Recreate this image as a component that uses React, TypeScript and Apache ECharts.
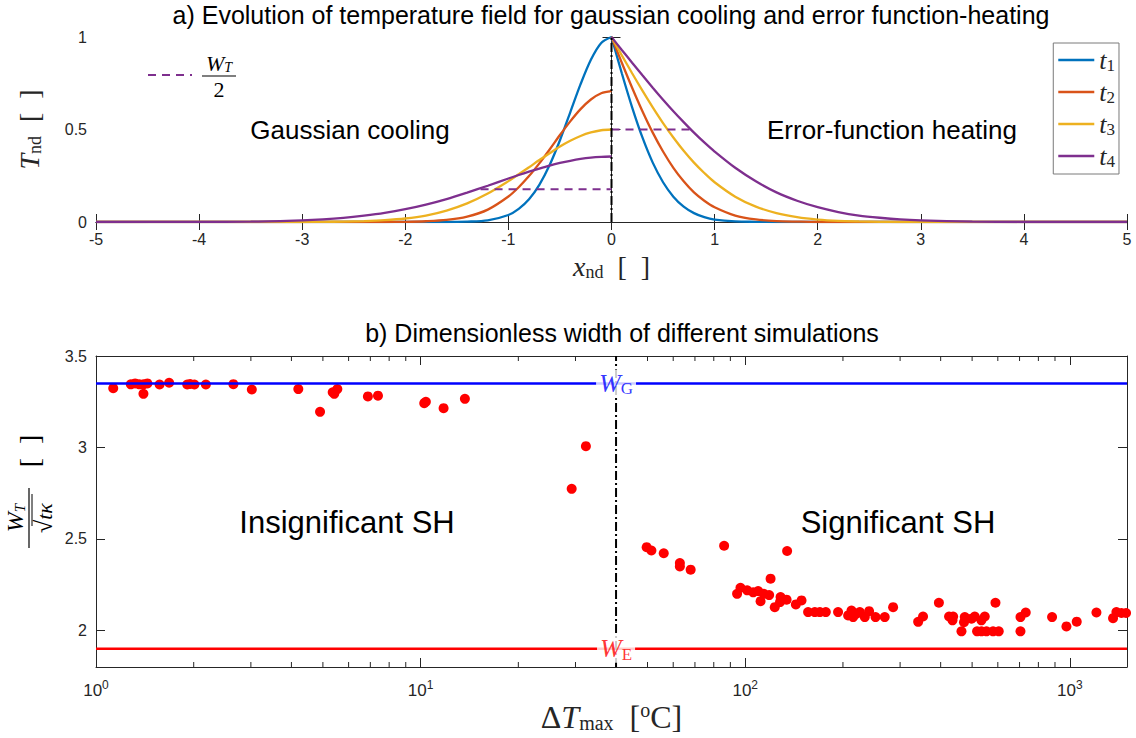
import React, { useEffect, useRef } from 'react';
import * as echarts from 'echarts';

const SANS = '"Liberation Sans", Arial, Helvetica, sans-serif';
const NARROW = '"Liberation Sans Narrow", "Liberation Sans", Arial, sans-serif';
const SERIF = '"Liberation Serif", "Times New Roman", "DejaVu Serif", serif';
const INK = '#262626';
const COLORS = ['#0072BD', '#D95319', '#EDB120', '#7E2F8E'];

// ---------- panel a) ----------
const timeNames = ['t1', 't2', 't3', 't4'];
const xSamples = [0, 0.1, 0.2, 0.3, 0.4, 0.5, 0.6, 0.7, 0.8, 0.9, 1.0, 1.2, 1.4, 1.6, 1.8, 2.0, 2.2, 2.4, 2.6, 2.8, 3.0, 3.5, 4.0, 5.0];
// Gaussian cooling side (x <= 0), values at -xSamples
const coolT1 = [1, 0.968, 0.877, 0.745, 0.593, 0.442, 0.308, 0.201, 0.123, 0.071, 0.038, 0.009, 0.002, 0, 0, 0, 0, 0, 0, 0, 0, 0, 0, 0];
const coolT2 = [0.707, 0.696, 0.662, 0.61, 0.544, 0.47, 0.392, 0.317, 0.248, 0.188, 0.138, 0.067, 0.029, 0.011, 0.004, 0.001, 0, 0, 0, 0, 0, 0, 0, 0];
const coolT3 = [0.5, 0.496, 0.484, 0.465, 0.439, 0.408, 0.372, 0.335, 0.296, 0.258, 0.221, 0.154, 0.101, 0.062, 0.035, 0.019, 0.01, 0.005, 0.002, 0.001, 0, 0, 0, 0];
const coolT4 = [0.354, 0.352, 0.348, 0.341, 0.331, 0.319, 0.305, 0.289, 0.272, 0.254, 0.235, 0.196, 0.159, 0.124, 0.094, 0.069, 0.049, 0.034, 0.022, 0.014, 0.009, 0.002, 0.001, 0];
// Error-function heating side (x >= 0), values at +xSamples
const heatT1 = [1, 0.804, 0.62, 0.457, 0.321, 0.215, 0.137, 0.083, 0.048, 0.026, 0.013, 0.003, 0.001, 0, 0, 0, 0, 0, 0, 0, 0, 0, 0, 0];
const heatT2 = [1, 0.861, 0.726, 0.599, 0.483, 0.381, 0.293, 0.22, 0.16, 0.115, 0.08, 0.035, 0.014, 0.005, 0.002, 0, 0, 0, 0, 0, 0, 0, 0, 0];
const heatT3 = [1, 0.901, 0.804, 0.71, 0.62, 0.535, 0.457, 0.385, 0.321, 0.265, 0.215, 0.137, 0.083, 0.048, 0.026, 0.013, 0.006, 0.003, 0.001, 0, 0, 0, 0, 0];
const heatT4 = [1, 0.93, 0.861, 0.793, 0.726, 0.661, 0.599, 0.54, 0.483, 0.43, 0.381, 0.293, 0.22, 0.16, 0.115, 0.08, 0.054, 0.035, 0.023, 0.014, 0.009, 0.002, 0, 0];
const coolCurves = [coolT1, coolT2, coolT3, coolT4];
const heatCurves = [heatT1, heatT2, heatT3, heatT4];
const halfWidthCool = [[-1.27, 0.177], [0, 0.177]];
const halfWidthHeat = [[0, 0.5], [0.77, 0.5]];
const centreLine = [[0, 0], [0, 1]];

// ---------- panel b) ----------
const insignificant = [
  [1.13, 3.324], [1.28, 3.345], [1.32, 3.35], [1.36, 3.345], [1.4, 3.345], [1.44, 3.35], [1.4, 3.293],
  [1.57, 3.344], [1.68, 3.354], [1.91, 3.344], [1.95, 3.347], [2.01, 3.344], [2.18, 3.344], [2.65, 3.346],
  [3.02, 3.317], [4.2, 3.319], [4.9, 3.195], [5.36, 3.302], [5.42, 3.293], [5.54, 3.319], [6.88, 3.279],
  [7.39, 3.283], [10.26, 3.242], [10.38, 3.25], [11.77, 3.215], [13.69, 3.266], [29.2, 2.774], [32.3, 3.007],
];
const significant = [
  [49.7, 2.455], [51.4, 2.437], [56.1, 2.422], [62.9, 2.368], [62.9, 2.35], [67.9, 2.332], [86.1, 2.463],
  [94.4, 2.2], [96.7, 2.233], [101.4, 2.219], [105.8, 2.208], [109.6, 2.215], [111.5, 2.16], [114.1, 2.2],
  [118.5, 2.193], [119.7, 2.283], [123.3, 2.127], [128.5, 2.182], [128, 2.155], [134.1, 2.168], [134.6, 2.434],
  [143.2, 2.142], [149.1, 2.164], [156.2, 2.1], [163.8, 2.1], [169.8, 2.1], [177.1, 2.1], [193.2, 2.1],
  [207.5, 2.082], [212.5, 2.109], [215, 2.073], [220.2, 2.091], [225.4, 2.1], [233.5, 2.073], [240.8, 2.105],
  [252, 2.073], [269, 2.073], [285.5, 2.127], [341, 2.047], [353, 2.076], [395, 2.151], [424.6, 2.076],
  [435, 2.055], [437, 2.076], [463.6, 1.995], [472, 2.045], [474.6, 2.073], [497.7, 2.064], [509.4, 2.076],
  [517.9, 1.995], [534.2, 1.995], [553.6, 1.995], [580, 1.995], [604, 1.995], [534, 2.055], [546.9, 2.076],
  [590, 2.151], [704.6, 2.073], [731.4, 2.098], [704.6, 1.995], [881.6, 2.073], [976.1, 2.022], [1050, 2.048],
  [1207.6, 2.098], [1358.6, 2.067], [1391.5, 2.1], [1442, 2.095], [1490, 2.095],
];
const wG = 3.35;
const wE = 1.9;
const dTSplit = 40;
const dTRange = [1, 1500];
const widthRange = [1.8, 3.5];
const widthTicks = [2, 2.5, 3, 3.5];
const minorTicks = [2, 3, 4, 5, 6, 7, 8, 9, 20, 30, 40, 50, 60, 70, 80, 90, 200, 300, 400, 500, 600, 700, 800, 900];

const makeRich = (size: number, sub: number, subPad: number) => ({
  i: { fontFamily: SERIF, fontStyle: 'italic', fontSize: size, color: INK },
  s: { fontFamily: SERIF, fontSize: sub, color: INK, padding: [subPad, 0, 0, 0] },
  n: { fontFamily: SERIF, fontSize: size, color: INK },
  p: { fontFamily: SERIF, fontSize: sub, color: INK, padding: [0, 0, subPad + 2, 0] },
});

export default function App() {
  const ref = useRef<HTMLDivElement>(null);
  useEffect(() => {
    const chart = echarts.init(ref.current as HTMLDivElement, null, { renderer: 'svg' });
    const axisLine = { show: true, lineStyle: { color: INK, width: 1 } };
    const tickLabel = { color: INK, fontFamily: SANS, fontSize: 16 };

    const curveSeries: any[] = [];
    timeNames.forEach((name, k) => {
      curveSeries.push({
        name, type: 'line', xAxisIndex: 0, yAxisIndex: 0, showSymbol: false, symbol: 'none',
        smooth: 0.3,
        lineStyle: { color: COLORS[k], width: 2.3 }, itemStyle: { color: COLORS[k] },
        data: xSamples.map((x, i) => [-x, coolCurves[k][i]]).reverse(),
      });
      curveSeries.push({
        name, type: 'line', xAxisIndex: 0, yAxisIndex: 0, showSymbol: false, symbol: 'none',
        smooth: 0.3,
        lineStyle: { color: COLORS[k], width: 2.3 }, itemStyle: { color: COLORS[k] },
        data: xSamples.map((x, i) => [x, heatCurves[k][i]]),
      });
    });

    const option: any = {
      animation: false,
      backgroundColor: '#ffffff',
      grid: [
        { left: 96, top: 37, width: 1031, height: 185 },
        { left: 96, top: 356, width: 1031, height: 311 },
      ],
      legend: {
        data: timeNames,
        orient: 'vertical', right: 17, top: 43,
        icon: 'rect',
        backgroundColor: '#fff', borderColor: '#7a7a7a', borderWidth: 1,
        padding: [4, 4, 4, 5], itemGap: 5, itemWidth: 36, itemHeight: 2.6,
        formatter: (n: string) => `{i|t}{s|${n.slice(1)}}`,
        textStyle: {
          rich: {
            i: { fontFamily: SERIF, fontStyle: 'italic', fontSize: 26, color: INK },
            s: { fontFamily: SERIF, fontSize: 17, color: INK, padding: [11, 0, 0, 0] },
          },
        },
      },
      xAxis: [
        {
          gridIndex: 0, type: 'value', min: -5, max: 5, interval: 1, position: 'bottom',
          axisLine, axisTick: { inside: true, length: 8, lineStyle: { color: INK } },
          axisLabel: { ...tickLabel, margin: 9 }, splitLine: { show: false },
          name: '{i|x}{s|nd}{n|  [  ]}', nameLocation: 'middle', nameGap: 29,
          nameTextStyle: { rich: makeRich(28, 18, 12) },
        },
        {
          gridIndex: 0, type: 'value', min: -5, max: 5, interval: 1, position: 'top',
          axisLine, axisTick: { inside: true, length: 8, lineStyle: { color: INK } },
          axisLabel: { show: false }, splitLine: { show: false },
        },
        {
          gridIndex: 1, type: 'log', logBase: 10, min: dTRange[0], max: dTRange[1], position: 'bottom',
          axisLine, axisTick: { inside: true, length: 9, lineStyle: { color: INK } },
          axisLabel: {
            margin: 12, showMaxLabel: false,
            formatter: (v: number) => {
              const e = Math.log10(v);
              return Math.abs(e - Math.round(e)) < 1e-6 ? `{b|10}{e|${Math.round(e)}}` : '';
            },
            rich: {
              b: { fontFamily: NARROW, fontSize: 17, color: INK },
              e: { fontFamily: NARROW, fontSize: 12, color: INK, padding: [0, 0, 11, 0] },
            },
          },
          splitLine: { show: false },
          name: '{n|Δ}{i|T}{s|max}{n|  [}{p|o}{n|C]}', nameLocation: 'middle', nameGap: 31,
          nameTextStyle: { rich: makeRich(32, 20, 12) },
        },
        {
          gridIndex: 1, type: 'log', logBase: 10, min: dTRange[0], max: dTRange[1], position: 'top',
          axisLine, axisTick: { inside: true, length: 9, lineStyle: { color: INK } },
          axisLabel: { show: false }, splitLine: { show: false },
        },
      ],
      yAxis: [
        {
          gridIndex: 0, type: 'value', min: 0, max: 1, interval: 0.5, position: 'left',
          axisLine, axisTick: { inside: true, length: 9, lineStyle: { color: INK } },
          axisLabel: { ...tickLabel, margin: 9 }, splitLine: { show: false },
          name: '{i|T}{s|nd}{n|  [  ]}', nameLocation: 'middle', nameRotate: 90, nameGap: 52,
          nameTextStyle: { rich: makeRich(28, 18, 12) },
        },
        {
          gridIndex: 0, type: 'value', min: 0, max: 1, interval: 0.5, position: 'right',
          axisLine, axisTick: { inside: true, length: 9, lineStyle: { color: INK } },
          axisLabel: { show: false }, splitLine: { show: false },
        },
        {
          gridIndex: 1, type: 'value', min: widthRange[0], max: widthRange[1], position: 'left',
          axisLine,
          axisTick: { inside: true, length: 9, lineStyle: { color: INK }, customValues: widthTicks },
          axisLabel: { ...tickLabel, margin: 9, customValues: widthTicks }, splitLine: { show: false },
        },
        {
          gridIndex: 1, type: 'value', min: widthRange[0], max: widthRange[1], position: 'right',
          axisLine,
          axisTick: { inside: true, length: 9, lineStyle: { color: INK }, customValues: widthTicks },
          axisLabel: { show: false, customValues: widthTicks }, splitLine: { show: false },
        },
      ],
      series: [
        ...curveSeries,
        {
          name: 'halfCool', type: 'line', xAxisIndex: 0, yAxisIndex: 0, showSymbol: false, symbol: 'none',
          lineStyle: { color: COLORS[3], width: 2, type: [8, 6] }, data: halfWidthCool,
        },
        {
          name: 'halfHeat', type: 'line', xAxisIndex: 0, yAxisIndex: 0, showSymbol: false, symbol: 'none',
          lineStyle: { color: COLORS[3], width: 2, type: [8, 6] }, data: halfWidthHeat,
        },
        {
          name: 'centre', type: 'line', xAxisIndex: 0, yAxisIndex: 0, showSymbol: false, symbol: 'none',
          lineStyle: { color: '#000', width: 2, type: [9, 3, 2, 3] }, data: centreLine,
        },
        // panel b
        {
          name: 'minorTicks', type: 'custom', xAxisIndex: 2, yAxisIndex: 2, clip: false, silent: true,
          data: minorTicks.map((v) => [v, widthRange[0]]),
          renderItem: (_p: any, api: any) => {
            const x = api.value(0);
            const b = api.coord([x, widthRange[0]]);
            const t = api.coord([x, widthRange[1]]);
            return {
              type: 'group',
              children: [
                { type: 'line', shape: { x1: b[0], y1: b[1], x2: b[0], y2: b[1] - 5 }, style: { stroke: INK, lineWidth: 1 } },
                { type: 'line', shape: { x1: t[0], y1: t[1], x2: t[0], y2: t[1] + 5 }, style: { stroke: INK, lineWidth: 1 } },
              ],
            };
          },
        },
        {
          name: 'WG', type: 'line', xAxisIndex: 2, yAxisIndex: 2, showSymbol: false, symbol: 'none',
          lineStyle: { color: '#0000FF', width: 2.5 }, data: dTRange.map((x) => [x, wG]),
        },
        {
          name: 'WE', type: 'line', xAxisIndex: 2, yAxisIndex: 2, showSymbol: false, symbol: 'none',
          lineStyle: { color: '#FF0000', width: 2.5 }, data: dTRange.map((x) => [x, wE]),
        },
        {
          name: 'split', type: 'line', xAxisIndex: 2, yAxisIndex: 2, showSymbol: false, symbol: 'none',
          lineStyle: { color: '#000', width: 2, type: [9, 3, 2, 3] },
          data: widthRange.map((y) => [dTSplit, y]),
        },
        {
          name: 'insig', type: 'scatter', xAxisIndex: 2, yAxisIndex: 2, symbolSize: 10,
          itemStyle: { color: '#FF0000', opacity: 1 }, data: insignificant, clip: true,
        },
        {
          name: 'sig', type: 'scatter', xAxisIndex: 2, yAxisIndex: 2, symbolSize: 10,
          itemStyle: { color: '#FF0000', opacity: 1 }, data: significant, clip: true,
        },
        {
          name: 'limits', type: 'scatter', xAxisIndex: 2, yAxisIndex: 2, symbolSize: 1, z: 10,
          itemStyle: { color: 'rgba(0,0,0,0)' }, silent: true,
          data: [
            {
              value: [dTSplit, wG],
              label: {
                show: true, position: 'inside', backgroundColor: '#fff', padding: [0, 3],
                formatter: '{i|W}{s|G}',
                rich: {
                  i: { fontFamily: SERIF, fontStyle: 'italic', fontSize: 26, color: '#0000FF' },
                  s: { fontFamily: SERIF, fontSize: 17, color: '#0000FF', padding: [11, 0, 0, 0] },
                },
              },
            },
            {
              value: [dTSplit, wE],
              label: {
                show: true, position: 'inside', backgroundColor: '#fff', padding: [0, 3],
                formatter: '{i|W}{s|E}',
                rich: {
                  i: { fontFamily: SERIF, fontStyle: 'italic', fontSize: 26, color: '#FF0000' },
                  s: { fontFamily: SERIF, fontSize: 17, color: '#FF0000', padding: [11, 0, 0, 0] },
                },
              },
            },
          ],
        },
      ],
      graphic: [
        {
          type: 'text', x: 611, y: 15,
          style: { text: 'a) Evolution of temperature field for gaussian cooling and error function-heating', font: `25px ${SANS}`, fill: '#000', align: 'center', verticalAlign: 'middle' },
        },
        {
          type: 'text', x: 622, y: 333,
          style: { text: 'b) Dimensionless width of different simulations', font: `25px ${SANS}`, fill: '#000', align: 'center', verticalAlign: 'middle' },
        },
        { type: 'text', x: 350, y: 130, style: { text: 'Gaussian cooling', font: `26px ${SANS}`, fill: '#000', align: 'center', verticalAlign: 'middle' } },
        { type: 'text', x: 892, y: 130, style: { text: 'Error-function heating', font: `26px ${SANS}`, fill: '#000', align: 'center', verticalAlign: 'middle' } },
        { type: 'text', x: 347, y: 522, style: { text: 'Insignificant SH', font: `31px ${SANS}`, fill: '#000', align: 'center', verticalAlign: 'middle' } },
        { type: 'text', x: 898, y: 522, style: { text: 'Significant SH', font: `31px ${SANS}`, fill: '#000', align: 'center', verticalAlign: 'middle' } },
        // W_T / 2 key
        { type: 'line', shape: { x1: 148, y1: 75, x2: 192, y2: 75 }, style: { stroke: COLORS[3], lineWidth: 2, lineDash: [8, 6] } },
        {
          type: 'text', x: 219, y: 63,
          style: {
            text: '{i|W}{s|T}', align: 'center', verticalAlign: 'middle',
            rich: {
              i: { fontFamily: SERIF, fontStyle: 'italic', fontSize: 22, fill: '#000' },
              s: { fontFamily: SERIF, fontStyle: 'italic', fontSize: 14, fill: '#000', padding: [9, 0, 0, 0] },
            },
          },
        },
        { type: 'line', shape: { x1: 202, y1: 76, x2: 236, y2: 76 }, style: { stroke: '#000', lineWidth: 1.2 } },
        { type: 'text', x: 219, y: 89, style: { text: '2', font: `22px ${SERIF}`, fill: '#000', align: 'center', verticalAlign: 'middle' } },
        // y-label of panel b
        {
          type: 'group', x: 29, y: 518, rotation: Math.PI / 2,
          children: [
            {
              type: 'text', x: 0, y: -14,
              style: {
                text: '{i|W}{s|T}', align: 'center', verticalAlign: 'middle',
                rich: {
                  i: { fontFamily: SERIF, fontStyle: 'italic', fontSize: 24, fill: '#000' },
                  s: { fontFamily: SERIF, fontStyle: 'italic', fontSize: 15, fill: '#000', padding: [10, 0, 0, 0] },
                },
              },
            },
            { type: 'line', shape: { x1: -30, y1: 0, x2: 30, y2: 0 }, style: { stroke: '#000', lineWidth: 1.2 } },
            {
              type: 'text', x: 0, y: 15,
              style: {
                text: '{r|√}{i|tκ}', align: 'center', verticalAlign: 'middle',
                rich: {
                  r: { fontFamily: SERIF, fontSize: 24, fill: '#000' },
                  i: { fontFamily: SERIF, fontStyle: 'italic', fontSize: 22, fill: '#000' },
                },
              },
            },
            { type: 'line', shape: { x1: -8, y1: 3, x2: 24, y2: 3 }, style: { stroke: '#000', lineWidth: 1 } },
            { type: 'text', x: 67, y: 0, style: { text: '[  ]', font: `28px ${SERIF}`, fill: '#000', align: 'center', verticalAlign: 'middle' } },
          ],
        },
      ],
    };
    chart.setOption(option);
    return () => chart.dispose();
  }, []);
  return <div ref={ref} style={{ position: 'absolute', left: 0, top: 0, width: 1136, height: 738 }} />;
}
